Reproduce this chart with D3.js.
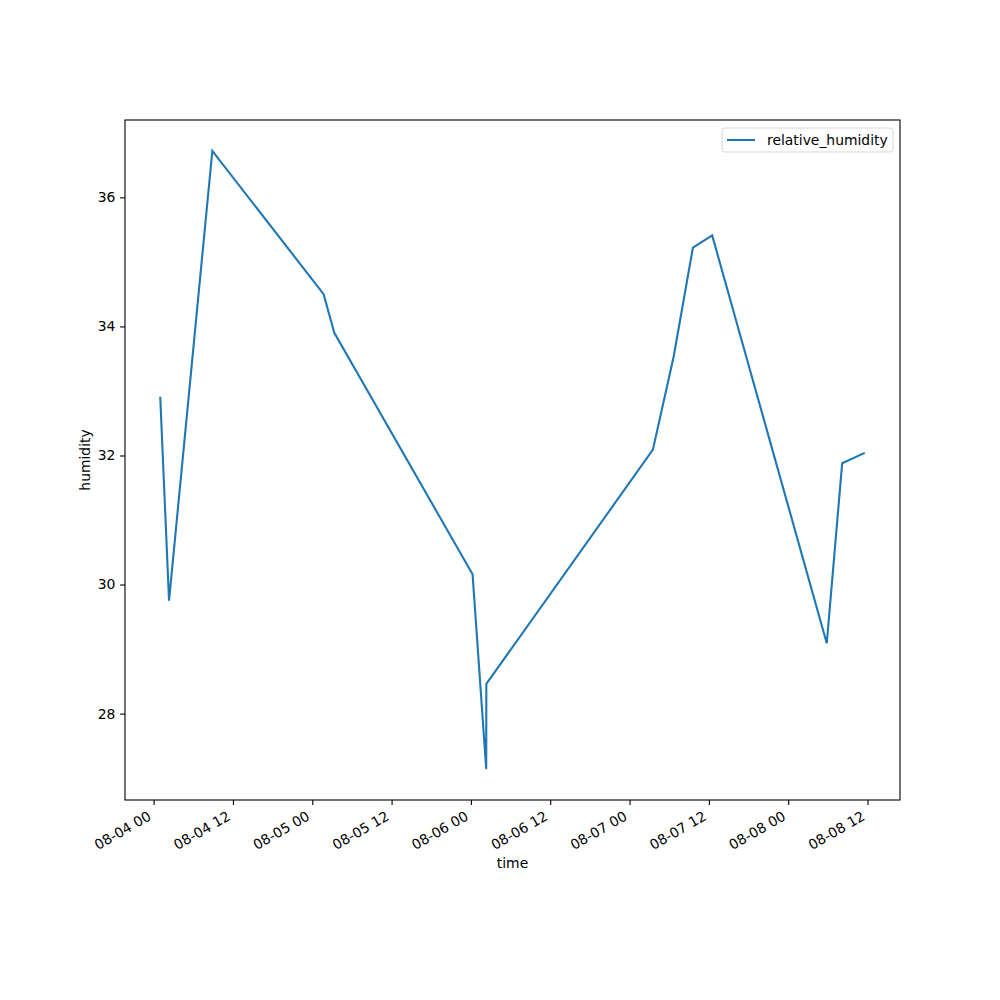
<!DOCTYPE html>
<html>
<head>
<meta charset="utf-8">
<script src="https://cdn.jsdelivr.net/npm/d3@7"></script>
<style>
  body { margin: 0; background: #fff; }
  text { font-family: 'DejaVu Sans', sans-serif; }
</style>
</head>
<body>
<div id="chart"></div>
<script>
// readings (UTC)
const times = [
  '2023-08-04 01:00', '2023-08-04 02:20', '2023-08-04 08:53',
  '2023-08-05 01:43', '2023-08-05 03:20',
  '2023-08-06 00:15', '2023-08-06 02:19', '2023-08-06 02:20',
  '2023-08-07 03:32', '2023-08-07 06:40', '2023-08-07 09:35', '2023-08-07 12:30',
  '2023-08-08 05:50', '2023-08-08 08:10', '2023-08-08 11:35'
]
const humidity = [
  32.91, 29.75, 36.72,
  34.50, 33.90,
  30.16, 27.14, 28.46,
  32.09, 33.53, 35.22, 35.41,
  29.09, 31.88, 32.04
]
const yTicks = [28, 30, 32, 34, 36]
const seriesName = 'relative_humidity'

const margin = { top: 120, right: 100, bottom: 200, left: 125 }
const width = 1000 - margin.left - margin.right
const height = 1000 - margin.top - margin.bottom

const parse = d3.utcParse('%Y-%m-%d %H:%M')
const data = times.map((t, i) => ({ t: parse(t), v: humidity[i] }))

const svg = d3
  .select('#chart')
  .append('svg')
  .attr('width', 1000)
  .attr('height', 1000)
  .append('g')
  .attr('transform', 'translate(' + margin.left + ',' + margin.top + ')')

// matplotlib style 5% padding
const tExt = d3.extent(data, d => +d.t)
const tPad = (tExt[1] - tExt[0]) * 0.05
const xPositionScale = d3
  .scaleUtc()
  .domain([new Date(tExt[0] - tPad), new Date(tExt[1] + tPad)])
  .range([0, width])

const vExt = d3.extent(data, d => d.v)
const vPad = (vExt[1] - vExt[0]) * 0.05
const yPositionScale = d3
  .scaleLinear()
  .domain([vExt[0] - vPad, vExt[1] + vPad])
  .range([height, 0])

const line = d3
  .line()
  .x(d => xPositionScale(d.t))
  .y(d => yPositionScale(d.v))

svg
  .append('path')
  .datum(data)
  .attr('fill', 'none')
  .attr('stroke', '#1f77b4')
  .attr('stroke-width', 2.1)
  .attr('stroke-linejoin', 'miter')
  .attr('d', line)

/* axes */
const xAxis = d3
  .axisBottom(xPositionScale)
  .ticks(d3.utcHour.every(12))
  .tickFormat(d3.utcFormat('%m-%d %H'))
  .tickSizeOuter(0)
  .tickSize(4.9)
const xg = svg
  .append('g')
  .attr('class', 'axis x-axis')
  .attr('transform', 'translate(0,' + height + ')')
  .call(xAxis)
xg.select('.domain').remove()
xg.selectAll('line').attr('stroke', '#000').attr('stroke-width', 1.1)
xg.selectAll('text')
  .attr('fill', '#000')
  .attr('font-size', 13.9)
  .attr('text-anchor', 'end')
  .attr('dy', 0)
  .attr('y', 0)
  .attr('transform', 'translate(-2,19) rotate(-30)')

const yAxis = d3
  .axisLeft(yPositionScale)
  .tickValues(yTicks)
  .tickSizeOuter(0)
  .tickSize(4.9)
const yg = svg
  .append('g')
  .attr('class', 'axis y-axis')
  .call(yAxis)
yg.select('.domain').remove()
yg.selectAll('line').attr('stroke', '#000').attr('stroke-width', 1.1)
yg.selectAll('text')
  .attr('fill', '#000')
  .attr('font-size', 13.9)
  .attr('x', -9.7)

// frame
svg
  .append('rect')
  .attr('width', width)
  .attr('height', height)
  .attr('fill', 'none')
  .attr('stroke', '#000')
  .attr('stroke-width', 1.1)

// axis labels
svg
  .append('text')
  .text('time')
  .attr('x', width / 2)
  .attr('y', height + 68)
  .attr('text-anchor', 'middle')
  .attr('font-size', 13.9)

svg
  .append('text')
  .text('humidity')
  .attr('transform', 'translate(-35,' + height / 2 + ') rotate(-90)')
  .attr('text-anchor', 'middle')
  .attr('font-size', 13.9)

// legend
const legend = svg
  .append('g')
  .attr('transform', 'translate(' + (width - 178) + ',8)')
legend
  .append('rect')
  .attr('width', 171)
  .attr('height', 24)
  .attr('rx', 3)
  .attr('fill', '#fff')
  .attr('stroke', '#d6d6d6')
  .attr('stroke-width', 1)
legend
  .append('line')
  .attr('x1', 5)
  .attr('x2', 33)
  .attr('y1', 12)
  .attr('y2', 12)
  .attr('stroke', '#1f77b4')
  .attr('stroke-width', 2.1)
legend
  .append('text')
  .text(seriesName)
  .attr('x', 45)
  .attr('y', 17)
  .attr('font-size', 13.9)
</script>
</body>
</html>
